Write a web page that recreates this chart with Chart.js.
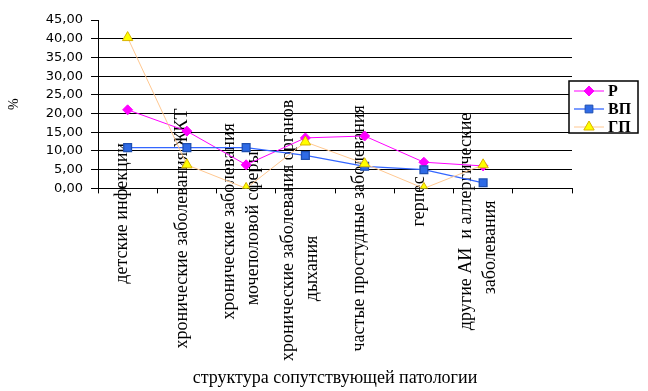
<!DOCTYPE html>
<html><head><meta charset="utf-8">
<script src="https://cdn.jsdelivr.net/npm/chart.js@4.4.1/dist/chart.umd.min.js"></script>
<style>html,body{margin:0;padding:0;background:#fff}</style>
</head><body>
<canvas id="c" width="648" height="391"></canvas>
<script>
// ---- data ----
const categories = [
  ["детские инфекции"],
  ["хронические заболевания ЖКТ"],
  ["хронические заболевания", "мочеполовой сферы"],
  ["хронические заболевания органов", "дыхания"],
  ["частые простудные заболевания"],
  ["герпес"],
  ["другие АИ  и аллергические", "заболевания"],
  [""]
];
const seriesNames = ["Р", "ВП", "ГП"];
const valuesR  = [21.0, 15.3, 6.3, 13.5, 14.0, 7.0, 6.0, null];
const valuesVP = [10.9, 10.9, 10.9, 8.8, 5.9, 5.0, 1.5, null];
const valuesGP = [40.3, 6.3, 0.0, 12.4, 6.6, 0.0, 6.3, null];
const yMin = 0, yMax = 45, yStep = 5;
const yAxisTitle = "%";
const xAxisTitle = "структура сопутствующей патологии";

// ---- style / layout (not data) ----
const labelLineOffsets = [[25],[40],[33,40],[42,80],[40],[13],[33,59],[]];
const labelFont = '18px "Liberation Serif", "Times New Roman", serif';

const catLabelPlugin = {
  id: 'catLabels',
  beforeDatasetsDraw(chart) {
    const xs = chart.scales.x, ctx = chart.ctx, bottom = chart.chartArea.bottom;
    ctx.save();
    ctx.font = labelFont; ctx.fillStyle = '#000';
    ctx.textAlign = 'center'; ctx.textBaseline = 'middle';
    categories.forEach((lines, i) => {
      const cx = xs.getPixelForValue(i);
      const n = lines.length;
      lines.forEach((t, j) => {
        if (!t) return;
        const lx = cx - 5 + (j - (n - 1) / 2) * 24;
        const ly = bottom + labelLineOffsets[i][j];
        ctx.save(); ctx.translate(lx, ly); ctx.rotate(-Math.PI / 2);
        ctx.fillText(t, 0, 0); ctx.restore();
      });
    });
    ctx.restore();
  }
};

function drawMarker(ctx, style, r, x, y) {
  ctx.beginPath();
  if (style === 'rectRot') {
    ctx.moveTo(x - r, y); ctx.lineTo(x, y - r); ctx.lineTo(x + r, y); ctx.lineTo(x, y + r);
  } else if (style === 'rect') {
    const s = r * Math.SQRT1_2; ctx.rect(x - s, y - s, 2 * s, 2 * s);
  } else if (style === 'triangle') {
    let a = 0;
    ctx.moveTo(x + Math.sin(a) * r, y - Math.cos(a) * r);
    a += 2 * Math.PI / 3; ctx.lineTo(x + Math.sin(a) * r, y - Math.cos(a) * r);
    a += 2 * Math.PI / 3; ctx.lineTo(x + Math.sin(a) * r, y - Math.cos(a) * r);
  }
  ctx.closePath(); ctx.fill(); ctx.stroke();
}

const legendPlugin = {
  id: 'boxLegend',
  afterDraw(chart) {
    const ctx = chart.ctx;
    const x0 = chart.chartArea.right - 3, y0 = 81, w = 69, h = 52;
    ctx.save();
    ctx.fillStyle = '#fff'; ctx.fillRect(x0, y0, w, h);
    ctx.strokeStyle = '#000'; ctx.lineWidth = 1.5; ctx.strokeRect(x0, y0, w, h);
    chart.data.datasets.forEach((ds, i) => {
      const y = y0 + 10 + i * 18;
      ctx.strokeStyle = ds.borderColor; ctx.lineWidth = ds.borderWidth;
      ctx.beginPath(); ctx.moveTo(x0 + 5, y); ctx.lineTo(x0 + 35, y); ctx.stroke();
      ctx.fillStyle = ds.pointBackgroundColor; ctx.strokeStyle = ds.pointBorderColor; ctx.lineWidth = 1;
      drawMarker(ctx, ds.pointStyle, ds.pointRadius, x0 + 20, y);
      ctx.fillStyle = '#000'; ctx.font = 'bold 16px "Liberation Serif", serif';
      ctx.textAlign = 'left'; ctx.textBaseline = 'middle';
      ctx.fillText(ds.label, x0 + 39, y + 1);
    });
    ctx.restore();
  }
};

new Chart(document.getElementById('c'), {
  type: 'line',
  data: {
    labels: categories,
    datasets: [
      { label: seriesNames[0], data: valuesR, order: 3,
        borderColor: '#FF00FF', borderWidth: 1,
        pointStyle: 'rectRot', pointRadius: 5,
        pointBackgroundColor: '#FF00FF', pointBorderColor: '#FF00FF', tension: 0 },
      { label: seriesNames[1], data: valuesVP, order: 2,
        borderColor: '#3366FF', borderWidth: 1.3,
        pointStyle: 'rect', pointRadius: 5.5,
        pointBackgroundColor: '#2F6BE6', pointBorderColor: '#1F4FB0', tension: 0 },
      { label: seriesNames[2], data: valuesGP, order: 1,
        borderColor: '#FFC891', borderWidth: 1,
        pointStyle: 'triangle', pointRadius: 6,
        pointBackgroundColor: '#FFFF00', pointBorderColor: '#D9B400', tension: 0 }
    ]
  },
  options: {
    responsive: false,
    animation: false,
    layout: { padding: { top: 20, right: 76, left: 0, bottom: 0 } },
    plugins: { legend: { display: false }, tooltip: { enabled: false } },
    scales: {
      x: {
        offset: true,
        grid: { offset: true, drawOnChartArea: false, color: '#000', tickLength: 5 },
        border: { color: '#000', width: 1 },
        ticks: { display: false },
        title: { display: true, text: xAxisTitle, color: '#000',
                 font: { family: '"Liberation Serif", serif', size: 18 },
                 padding: { top: 174, bottom: 2 } }
      },
      y: {
        min: yMin, max: yMax,
        ticks: { stepSize: yStep, color: '#000', padding: 8,
                 font: { family: '"DejaVu Sans", sans-serif', size: 13 },
                 callback: v => v.toFixed(2).replace('.', ',') },
        grid: { color: c => (c.tick && c.tick.value === yMax) ? 'rgba(0,0,0,0)' : '#000',
                tickColor: '#000', tickLength: 7, lineWidth: 1 },
        border: { color: '#000', width: 1 },
        title: { display: true, text: yAxisTitle, color: '#000',
                 font: { family: '"Liberation Serif", serif', size: 14 },
                 padding: { top: 6, bottom: 15 } }
      }
    }
  },
  plugins: [catLabelPlugin, legendPlugin]
});
</script>
</body></html>
